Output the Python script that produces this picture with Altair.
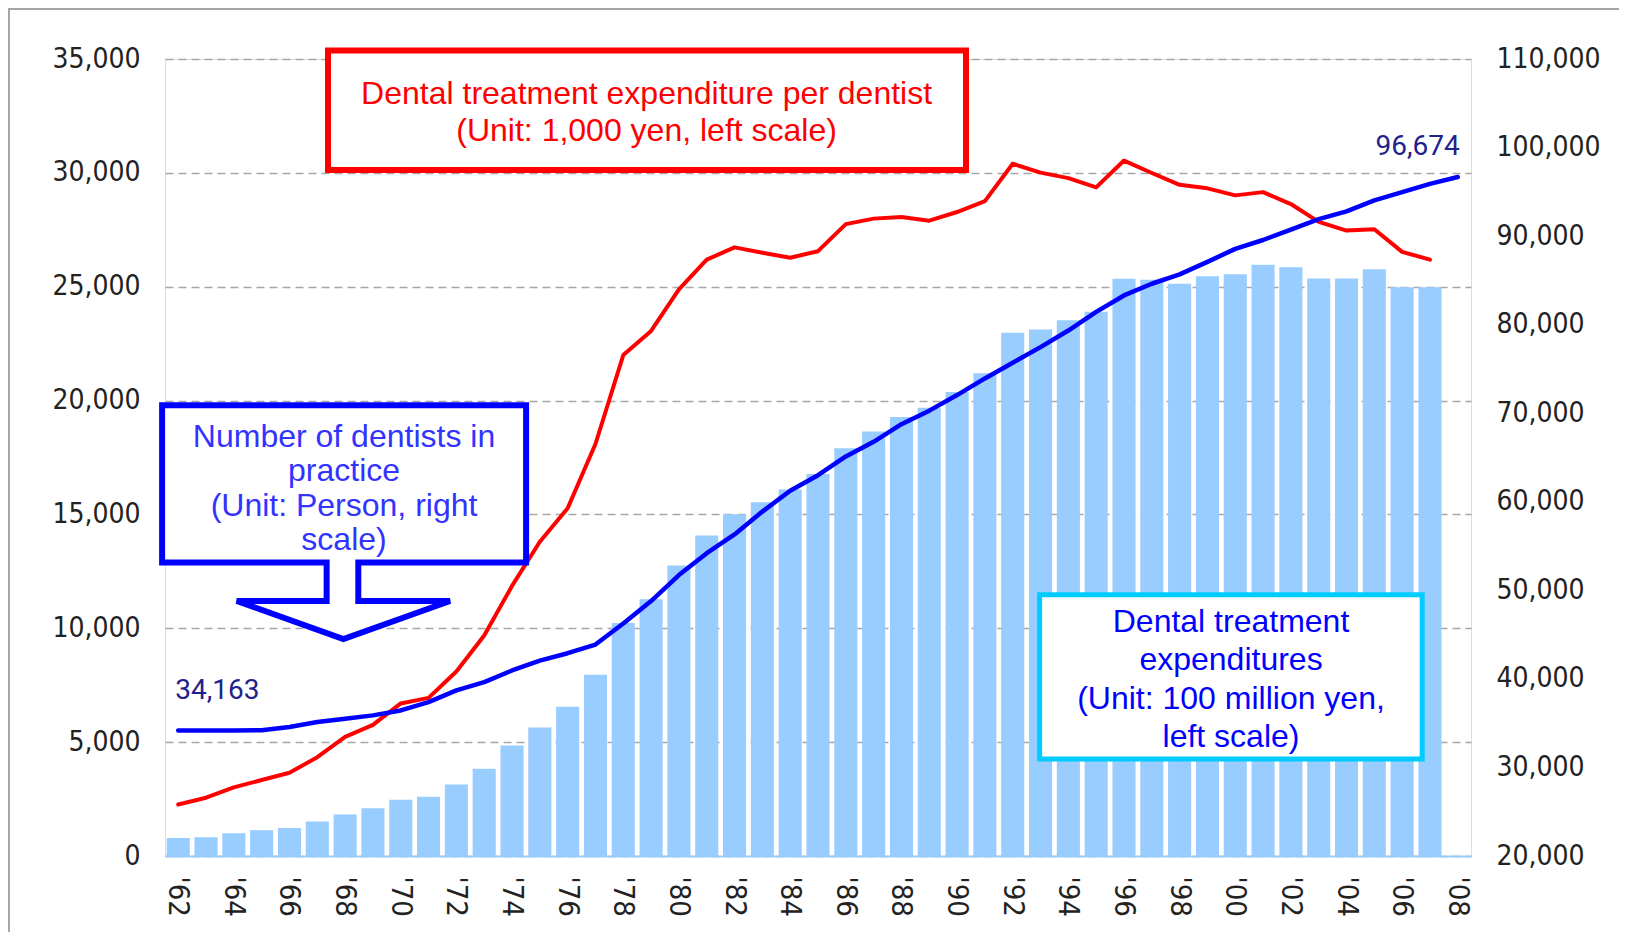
import altair as alt
import pandas as pd

years = ["'62", "'63", "'64", "'65", "'66", "'67", "'68", "'69", "'70", "'71",
         "'72", "'73", "'74", "'75", "'76", "'77", "'78", "'79", "'80", "'81",
         "'82", "'83", "'84", "'85", "'86", "'87", "'88", "'89", "'90", "'91",
         "'92", "'93", "'94", "'95", "'96", "'97", "'98", "'99", "'00", "'01",
         "'02", "'03", "'04", "'05", "'06", "'07", "'08"]

# Dental treatment expenditures (100 million yen, left scale)
expenditures = [790, 825, 1000, 1135, 1225, 1515, 1827, 2095, 2472, 2606,
                3140, 3830, 4855, 5640, 6550, 7955, 10230, 11280, 12760, 14080,
                15010, 15530, 16100, 16770, 17910, 18640, 19280, 19690, 20380, 21200,
                22980, 23120, 23530, 23900, 25350, 25310, 25130, 25455, 25545, 25970,
                25860, 25365, 25365, 25770, 24980, 24980, None]

# Dental treatment expenditure per dentist (1,000 yen, left scale)
per_dentist = [2260, 2560, 3015, 3335, 3655, 4340, 5230, 5757, 6700, 6945,
               8100, 9686, 11860, 13800, 15270, 18093, 22000, 23060, 24880, 26190,
               26728, 26495, 26272, 26560, 27750, 27990, 28058, 27900, 28280, 28760,
               30400, 30010, 29770, 29360, 30540, 29995, 29476, 29320, 29011, 29154,
               28630, 27850, 27466, 27525, 26528, 26190, None]

# Number of dentists in practice (persons, right scale)
dentists = [34163, 34170, 34180, 34190, 34560, 35130, 35500, 35880, 36440, 37380,
            38700, 39630, 40950, 42070, 42900, 43880, 46260, 48790, 51725, 54190,
            56310, 58890, 61240, 63000, 65120, 66770, 68760, 70290, 72050, 73930,
            75700, 77460, 79340, 81450, 83300, 84620, 85680, 87090, 88560, 89560,
            90740, 91910, 92800, 94030, 94970, 95900, 96674]

label_years = years[::2]

red_text = ["Dental treatment expenditure per dentist", "(Unit: 1,000 yen, left scale)"]
blue_text = ["Number of dentists in", "practice", "(Unit: Person, right", "scale)"]
cyan_text = ["Dental treatment", "expenditures", "(Unit: 100 million yen,", "left scale)"]
first_label = "34,163"
last_label = "96,674"

df = pd.DataFrame({"year": years, "exp": expenditures, "per": per_dentist, "den": dentists})

AXIS_FONT = "Liberation Sans Narrow, DejaVu Sans Condensed, sans-serif"
TEXT_FONT = "Liberation Sans, Arial, sans-serif"

W, H = 1306, 797

xenc = alt.X("year:N", sort=years,
             scale=alt.Scale(paddingInner=0.17, paddingOuter=0.06),
             axis=alt.Axis(title=None, values=label_years, labelAngle=90, ticks=False,
                           labelPadding=20, labelFont=AXIS_FONT, labelFontSize=29,
                           labelColor="#222222", domainColor="#99CCFF", domainWidth=2,
                           grid=False))

left_scale = alt.Scale(domain=[0, 35000], nice=False)
left_axis = alt.Axis(title=None, orient="left", values=list(range(0, 35001, 5000)),
                     format=",d", ticks=False, domain=False, labelPadding=25,
                     labelFont=AXIS_FONT, labelFontSize=28, labelColor="#222222",
                     grid=True, gridColor="#A6A6A6", gridDash=[8, 5], gridWidth=1.5)

bars = alt.Chart(df).mark_bar(color="#99CCFF").encode(
    x=xenc,
    y=alt.Y("exp:Q", scale=left_scale, axis=left_axis),
)
red_line = alt.Chart(df).mark_line(color="#FF0000", strokeWidth=4, strokeCap="round",
                                   strokeJoin="round").encode(
    x=xenc,
    y=alt.Y("per:Q", scale=left_scale, axis=left_axis),
)
left_layer = alt.layer(bars, red_line)

right_scale = alt.Scale(domain=[20000, 110000], nice=False)
right_axis = alt.Axis(title=None, orient="right", values=list(range(20000, 110001, 10000)),
                      format=",d", ticks=False, domain=False, labelPadding=25,
                      labelFont=AXIS_FONT, labelFontSize=28, labelColor="#222222",
                      grid=False)

blue_line = alt.Chart(df).mark_line(color="#0000FF", strokeWidth=4.5, strokeCap="round",
                                    strokeJoin="round").encode(
    x=xenc,
    y=alt.Y("den:Q", scale=right_scale, axis=right_axis),
)
lbl_df = pd.DataFrame({"year": [years[0], years[-1]], "den": [dentists[0], dentists[-1]],
                       "txt": [first_label, last_label]})
lbl_first = alt.Chart(lbl_df.iloc[[0]]).mark_text(
    font="Roboto", fontSize=28, color="#22228C", align="left", baseline="middle",
    dx=-3, dy=-40).encode(x=xenc, y=alt.Y("den:Q", scale=right_scale, axis=right_axis),
                          text="txt:N")
lbl_last = alt.Chart(lbl_df.iloc[[1]]).mark_text(
    font="Roboto", fontSize=28, color="#22228C", align="right", baseline="middle",
    dx=2, dy=-30).encode(x=xenc, y=alt.Y("den:Q", scale=right_scale, axis=right_axis),
                         text="txt:N")
right_layer = alt.layer(blue_line, lbl_first, lbl_last)

one = pd.DataFrame({"k": [0]})

frame = alt.Chart(one).mark_rect(fill="white", fillOpacity=0, stroke="#A6A6A6",
                                 strokeWidth=2).encode(
    x=alt.value(-156), x2=alt.value(1500), y=alt.value(-50), y2=alt.value(940))

red_box = alt.Chart(one).mark_rect(fill="white", stroke="#FF0000", strokeWidth=6).encode(
    x=alt.value(163), x2=alt.value(801), y=alt.value(-8.5), y2=alt.value(111))
cyan_box = alt.Chart(one).mark_rect(fill="white", stroke="#00CCFF", strokeWidth=5).encode(
    x=alt.value(874.6), x2=alt.value(1257.2), y=alt.value(535.7), y2=alt.value(700))

callout_path = ("M -1 -0.642 L 1 -0.642 L 1 0.221 L 0.078 0.221 L 0.078 0.433 "
                "L 0.582 0.433 L -0.004 0.642 L -0.590 0.433 L -0.096 0.433 "
                "L -0.096 0.221 L -1 0.221 Z")
callout = alt.Chart(one).mark_point(shape=callout_path, size=364 * 364, filled=True,
                                    fill="white", fillOpacity=1, opacity=1,
                                    stroke="#0000FF", strokeWidth=6,
                                    strokeJoin="miter").encode(
    x=alt.value(179.1), y=alt.value(463.2))


def text_lines(lines, xpos, ys, color, size):
    out = []
    for line, yy in zip(lines, ys):
        out.append(alt.Chart(one).mark_text(text=line, font=TEXT_FONT, fontSize=size,
                                            color=color, align="center",
                                            baseline="middle").encode(
            x=alt.value(xpos), y=alt.value(yy)))
    return out


red_texts = text_lines(red_text, 481.6, [34.6, 72], "#FF0000", 32)
blue_texts = text_lines(blue_text, 179, [377.6, 412, 447.3, 480.6], "#3333FF", 32)
cyan_texts = text_lines(cyan_text, 1066, [562.7, 601.1, 639.6, 678.1], "#0000FF", 32)

data_layers = alt.layer(left_layer, right_layer).resolve_scale(y="independent")

chart = alt.layer(
    frame, data_layers, red_box, callout, cyan_box,
    *red_texts, *blue_texts, *cyan_texts,
).properties(
    width=W, height=H,
    autosize=alt.AutoSizeParams(type="none"),
    padding={"left": 157, "top": 51, "right": 148, "bottom": 76},
).configure_view(stroke=None).configure(background="white")

chart.save("out.html", embed_options={"renderer": "svg", "actions": False})
